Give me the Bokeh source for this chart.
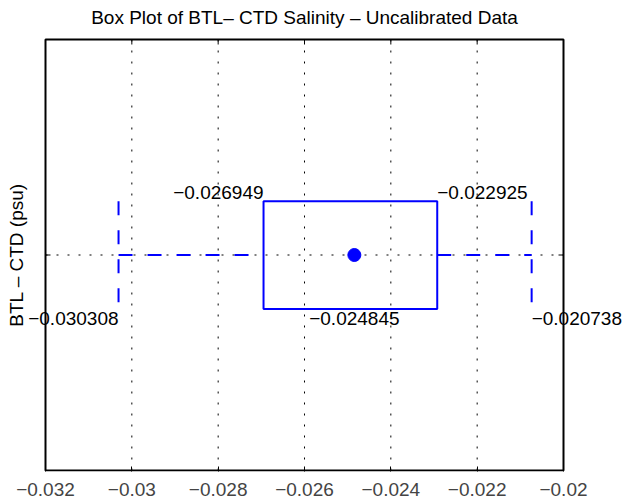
import math
from bokeh.plotting import figure
from bokeh.models import Range1d, FixedTicker, Label
from bokeh.embed import file_html
from bokeh.resources import INLINE

# ---- data ----
x_ticks = [-0.032, -0.030, -0.028, -0.026, -0.024, -0.022, -0.020]
x_tick_labels = ["\u22120.032", "\u22120.03", "\u22120.028", "\u22120.026",
                 "\u22120.024", "\u22120.022", "\u22120.02"]
y_limits = [0.0, 2.0]
whisker_min = -0.030308
q1 = -0.026949
median = -0.024845
q3 = -0.022925
whisker_max = -0.020738
group_pos = 1.0
box_half = 0.25
title_text = "Box Plot of BTL\u2013 CTD Salinity \u2013 Uncalibrated Data"
y_label_text = "BTL \u2013 CTD (psu)"

# ---- layout (pixels) ----
W, H = 625, 504
AX_L, AX_R, AX_T, AX_B = 45, 563, 39, 470   # plot box edges on the page
BOTTOM_PANEL = 33
FONT = "Liberation Sans"
BLUE = "#0000FF"

x0, x1 = x_ticks[0], x_ticks[-1]
y0, y1 = y_limits
xs = (x1 - x0) / (AX_R - AX_L)
ys = (y1 - y0) / (AX_B - AX_T)
frame_bottom = H - BOTTOM_PANEL

def px_x(px):
    return x0 + (px - AX_L) * xs

def px_y(py):
    return y1 - (py - AX_T) * ys

p = figure(width=W, height=H, output_backend="svg", toolbar_location=None,
           x_range=Range1d(px_x(0), px_x(W)),
           y_range=Range1d(px_y(frame_bottom), px_y(0)),
           y_axis_location=None,
           min_border_left=0, min_border_right=0, min_border_top=0,
           min_border_bottom=BOTTOM_PANEL)
p.background_fill_color = "white"
p.border_fill_color = "white"
p.outline_line_color = None
p.xgrid.visible = False
p.ygrid.visible = False

ax = p.xaxis[0]
ax.ticker = FixedTicker(ticks=x_ticks)
ax.major_label_overrides = {t: l for t, l in zip(x_ticks, x_tick_labels)}
ax.major_label_text_font = FONT
ax.major_label_text_font_size = "19px"
ax.major_label_standoff = 11
ax.axis_line_color = None
ax.major_tick_in = 5
ax.major_tick_out = 0
ax.minor_tick_line_color = None
ax.major_tick_line_color = "black"

# dotted grid
inner = x_ticks[1:-1]
p.segment(x0=inner, y0=[y0] * len(inner), x1=inner, y1=[y1] * len(inner),
          line_color="black", line_width=1, line_dash="2 9")
p.segment(x0=[x0], y0=[group_pos], x1=[x1], y1=[group_pos],
          line_color="black", line_width=1, line_dash="2 9")

# axes box and tick marks
p.quad(left=[x0], right=[x1], bottom=[y0], top=[y1], fill_color=None,
       line_color="black", line_width=2)
p.ray(x=inner, y=[y1] * len(inner), length=5, length_units="screen",
      angle=-math.pi / 2, line_color="black", line_width=1)
p.ray(x=[x0, x1], y=[group_pos, group_pos], length=5, length_units="screen",
      angle=[0, math.pi], line_color="black", line_width=1)

# box
p.quad(left=[q1], right=[q3], bottom=[group_pos - box_half], top=[group_pos + box_half],
       fill_color=None, line_color=BLUE, line_width=2)
# whiskers
p.segment(x0=[whisker_min, q3], y0=[group_pos, group_pos],
          x1=[q1, whisker_max], y1=[group_pos, group_pos],
          line_color=BLUE, line_width=2, line_dash="14 15")
# caps
p.segment(x0=[whisker_min, whisker_max], y0=[group_pos + box_half] * 2,
          x1=[whisker_min, whisker_max], y1=[group_pos - box_half] * 2,
          line_color=BLUE, line_width=2, line_dash="14 15")
# median
p.scatter(x=[median], y=[group_pos], size=13, color=BLUE)

def fmt(v):
    return ("\u2212%.6f" % abs(v)) if v < 0 else "%.6f" % v

labels = [
    (q1, group_pos + box_half, "right", "bottom", 2),
    (q3, group_pos + box_half, "left", "bottom", 2),
    (median, group_pos - box_half, "center", "top", -3),
    (whisker_min, group_pos - box_half, "right", "top", -3),
    (whisker_max, group_pos - box_half, "left", "top", -3),
]
for x, y, al, bl, yo in labels:
    p.add_layout(Label(x=x, y=y, text=fmt(x), text_align=al, text_baseline=bl,
                       y_offset=yo, text_font=FONT, text_font_size="19px",
                       text_color="black"))

# title and y-axis label
p.add_layout(Label(x=(x0 + x1) / 2, y=px_y(17), text=title_text, text_align="center",
                   text_baseline="middle", text_font=FONT, text_font_size="19px",
                   text_color="black"))
p.add_layout(Label(x=px_x(16), y=group_pos, text=y_label_text, angle=math.pi / 2,
                   text_align="center", text_baseline="middle", text_font=FONT,
                   text_font_size="19px", text_color="black"))

open("out.html", "w").write(file_html(p, INLINE))
